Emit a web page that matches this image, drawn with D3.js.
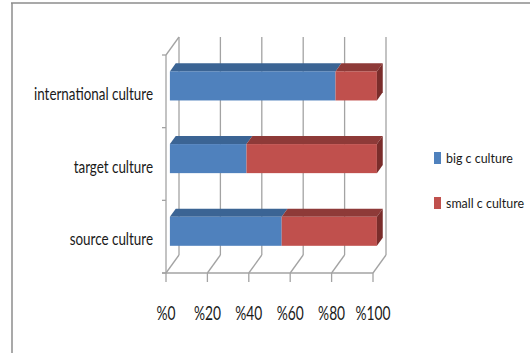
<!DOCTYPE html>
<html><head><meta charset="utf-8">
<script src="https://cdn.jsdelivr.net/npm/d3@7"></script>
<style>html,body{margin:0;padding:0;background:#fff;}svg{display:block;}</style>
</head><body>
<svg id="c" width="530" height="353"></svg>
<script>
// ---- data ----
const categories = ["international culture", "target culture", "source culture"];
const seriesNames = ["big c culture", "small c culture"];
const bigC   = [80, 37, 54];
const smallC = [20, 63, 46];
const tickValues = [0, 20, 40, 60, 80, 100];
const tickLabels = ["%0", "%20", "%40", "%60", "%80", "%100"];

// ---- layout ----
const svg = d3.select("#c");
const W = 530, H = 353;
const front = {x0: 166, x1: 373, y0: 55, y1: 273};
const depth = {dx: 13, dy: -18};
const f1 = 0.3, f2 = 0.75; // bar depth range (fraction of full depth)
const font = "Lato, 'Open Sans', sans-serif";
const txt = "#1a1a1a";
const gridCol = "#a3a3a3";
const colors = {
  front: ["#4f81bd", "#c0504d"],
  top:   ["#3b6494", "#8e3a38"],
  side:  ["#2f5384", "#7a2d2b"]
};

const x = d3.scaleLinear().domain([0, 100]).range([front.x0, front.x1]);
const y = d3.scaleBand().domain(categories).range([front.y0, front.y1]).paddingInner(0.6).paddingOuter(0.3);

// frame
svg.append("line").attr("x1", 11).attr("x2", W).attr("y1", 3).attr("y2", 3).attr("stroke", "#8c8c8c").attr("stroke-width", 1.5);
svg.append("line").attr("x1", 12).attr("x2", 12).attr("y1", 3).attr("y2", H).attr("stroke", "#8c8c8c").attr("stroke-width", 1.5);

const g = svg.append("g");
// back wall gridlines + floor diagonals + front ticks
tickValues.forEach(v => {
  const fx = x(v);
  g.append("line").attr("x1", fx + depth.dx).attr("x2", fx + depth.dx)
    .attr("y1", front.y0 + depth.dy).attr("y2", front.y1 + depth.dy)
    .attr("stroke", gridCol).attr("stroke-width", 1.3);
  g.append("line").attr("x1", fx).attr("x2", fx + depth.dx)
    .attr("y1", front.y1).attr("y2", front.y1 + depth.dy)
    .attr("stroke", gridCol).attr("stroke-width", 1.3);
  g.append("line").attr("x1", fx).attr("x2", fx)
    .attr("y1", front.y1).attr("y2", front.y1 + 9)
    .attr("stroke", gridCol).attr("stroke-width", 1.3);
});
// floor front line
g.append("line").attr("x1", front.x0 - 4).attr("x2", front.x1).attr("y1", front.y1).attr("y2", front.y1)
  .attr("stroke", gridCol).attr("stroke-width", 1.3);
// left axis
g.append("line").attr("x1", front.x0).attr("x2", front.x0).attr("y1", front.y0).attr("y2", front.y1)
  .attr("stroke", gridCol).attr("stroke-width", 1.3);
g.append("line").attr("x1", front.x0).attr("x2", front.x0 + depth.dx).attr("y1", front.y0).attr("y2", front.y0 + depth.dy)
  .attr("stroke", gridCol).attr("stroke-width", 1.3);
const bounds = [front.y0].concat(categories.map((c, i) => front.y0 + (i + 1) * y.step()));
bounds.forEach(b => {
  g.append("line").attr("x1", front.x0 - 4).attr("x2", front.x0).attr("y1", b).attr("y2", b)
    .attr("stroke", gridCol).attr("stroke-width", 1.3);
});

// bars
const o1 = {dx: depth.dx * f1, dy: depth.dy * f1};
const o2 = {dx: depth.dx * f2, dy: depth.dy * f2};
const bars = svg.append("g");
categories.forEach((c, i) => {
  const vals = [bigC[i], smallC[i]];
  let acc = 0;
  const by = y(c) + o1.dy, bh = y.bandwidth();
  const ddx = o2.dx - o1.dx, ddy = o2.dy - o1.dy;
  vals.forEach((v, s) => {
    const xa = x(acc) + o1.dx, xb = x(acc + v) + o1.dx;
    // top face
    bars.append("path")
      .attr("d", `M${xa},${by}L${xa + ddx},${by + ddy}L${xb + ddx},${by + ddy}L${xb},${by}Z`)
      .attr("fill", colors.top[s]);
    // front face
    bars.append("rect").attr("x", xa).attr("y", by).attr("width", xb - xa).attr("height", bh)
      .attr("fill", colors.front[s]);
    if (s === vals.length - 1) {
      bars.append("path")
        .attr("d", `M${xb},${by}L${xb + ddx},${by + ddy}L${xb + ddx},${by + bh + ddy}L${xb},${by + bh}Z`)
        .attr("fill", colors.side[s]);
    }
    acc += v;
  });
});

function squeeze(sel, targetWidth, refText) {
  let ref = null;
  sel.each(function() { if (this.textContent === refText) ref = this; });
  const k = targetWidth / ref.getComputedTextLength();
  sel.each(function() {
    const L = this.getComputedTextLength();
    d3.select(this).attr("textLength", L * k).attr("lengthAdjust", "spacingAndGlyphs");
  });
}

// category labels
const cl = svg.append("g").selectAll("text").data(categories).join("text")
  .attr("x", 153).attr("y", d => y(d) - y.step() * y.paddingOuter() + y.step() / 2 + 1.5)
  .attr("text-anchor", "end").attr("dominant-baseline", "central")
  .attr("font-family", font).attr("font-size", 18).attr("fill", txt).text(d => d);
squeeze(cl, 119, "international culture");

// x tick labels
const tl = svg.append("g").selectAll("text").data(tickValues).join("text")
  .attr("x", d => x(d)).attr("y", 312)
  .attr("text-anchor", "middle").attr("dominant-baseline", "central")
  .attr("font-family", font).attr("font-size", 20).attr("fill", txt).text((d, i) => tickLabels[i]);
squeeze(tl, 35, "%100");

// legend
const lg = svg.append("g");
seriesNames.forEach((n, i) => {
  const ly = 158 + i * 45;
  lg.append("rect").attr("x", 434).attr("y", ly - 6).attr("width", 7).attr("height", 12).attr("fill", colors.front[i]);
});
const lt = lg.selectAll("text").data(seriesNames).join("text")
  .attr("x", 446).attr("y", (d, i) => 158 + i * 45)
  .attr("dominant-baseline", "central")
  .attr("font-family", font).attr("font-size", 13).attr("fill", txt).text(d => d);
squeeze(lt, 78, "small c culture");
</script>
</body></html>
